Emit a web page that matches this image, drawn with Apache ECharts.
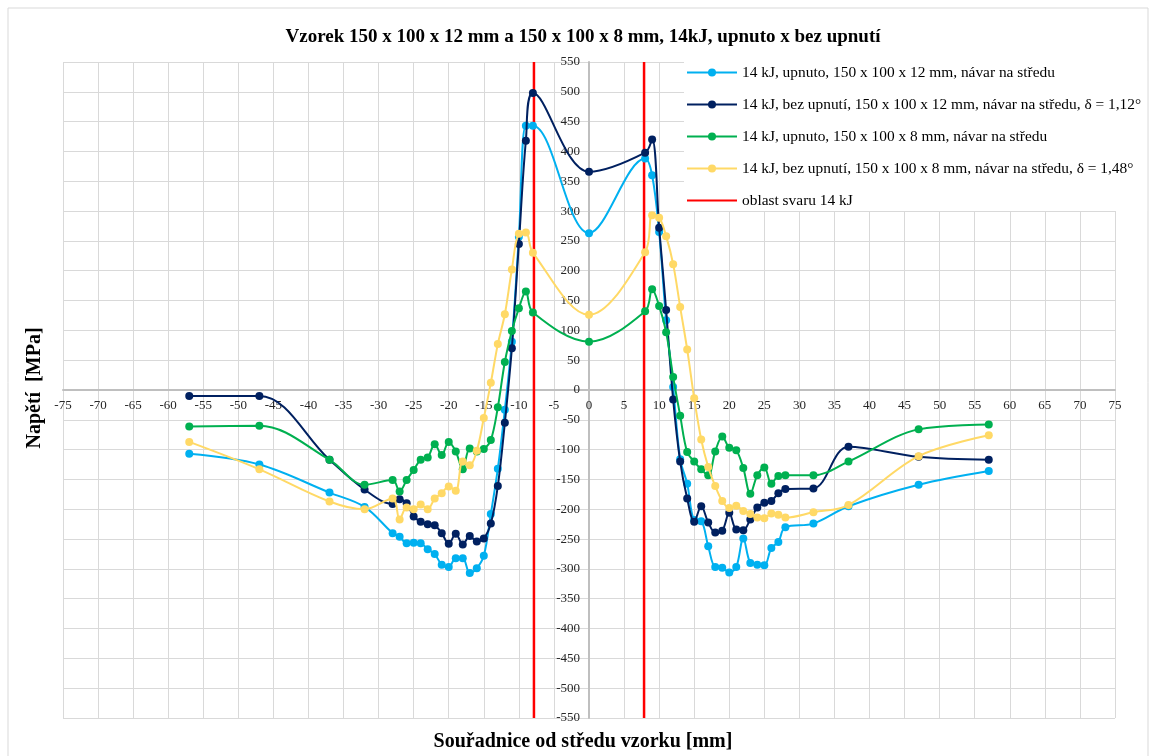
<!DOCTYPE html>
<html>
<head>
<meta charset="utf-8">
<script src="https://cdn.jsdelivr.net/npm/echarts@6/dist/echarts.min.js"></script>
<style>
html,body{margin:0;padding:0;background:#fff;}
#c{width:1154px;height:756px;}
</style>
</head>
<body>
<div id="c"></div>
<script>
// Positions (mm from centre of specimen)
const positions = [-57,-47,-37,-32,-28,-27,-26,-25,-24,-23,-22,-21,-20,-19,-18,-17,-16,-15,-14,-13,-12,-11,-10,-9,-8,
  0,
  8,9,10,11,12,13,14,15,16,17,18,19,20,21,22,23,24,25,26,27,28,32,37,47,57];

// 14 kJ, upnuto, 150 x 100 x 12 mm
const upnuto12 = [-107,-125,-172,-196,-240,-246,-257,-256,-257,-267,-275,-293,-297,-282,-282,-307,-299,-278,-208,-132,-33,81,257,443,443,
  263,
  388,360,265,117,5,-116,-157,-218,-220,-262,-297,-298,-306,-297,-249,-290,-293,-294,-265,-255,-230,-224,-195,-159,-136];

// 14 kJ, bez upnutí, 150 x 100 x 12 mm
const bezUpnuti12 = [-10,-10,-117,-167,-191,-183,-190,-212,-221,-225,-227,-240,-258,-241,-259,-245,-254,-249,-224,-161,-55,70,245,418,498,
  366,
  398,420,272,134,-16,-120,-182,-221,-195,-222,-239,-236,-206,-234,-235,-217,-197,-189,-186,-173,-166,-165,-95,-112,-117];

// 14 kJ, upnuto, 150 x 100 x 8 mm
const upnuto8 = [-61,-60,-117,-159,-151,-170,-151,-134,-117,-113,-91,-109,-87,-103,-133,-98,-103,-99,-84,-29,47,99,137,165,130,
  81,
  132,169,141,97,22,-43,-104,-120,-133,-143,-103,-78,-97,-101,-131,-174,-143,-130,-157,-144,-143,-143,-120,-66,-58];

// 14 kJ, bez upnutí, 150 x 100 x 8 mm
const bezUpnuti8 = [-87,-133,-187,-200,-182,-217,-197,-200,-192,-200,-182,-173,-162,-169,-120,-126,-102,-47,12,77,127,202,262,264,230,
  126,
  231,293,289,258,211,139,68,-14,-83,-129,-161,-186,-198,-194,-203,-208,-214,-215,-207,-209,-214,-205,-193,-111,-76];

// weld zone boundaries
const weldZone = [-7.85, 7.85];
const xRange = [-75, 75];
const yRange = [-550, 550];

const seriesNames = [
  '14 kJ, upnuto, 150 x 100 x 12 mm, návar na středu',
  '14 kJ, bez upnutí, 150 x 100 x 12 mm, návar na středu, δ = 1,12°',
  '14 kJ, upnuto, 150 x 100 x 8 mm, návar na středu',
  '14 kJ, bez upnutí, 150 x 100 x 8 mm, návar na středu, δ = 1,48°',
  'oblast svaru 14 kJ'
];
const colors = ['#00B0F0', '#002060', '#00B050', '#FFD966', '#FF0000'];

const zip = (xs, ys) => xs.map((x, i) => [x, ys[i]]);
const serif = '"Liberation Serif", "DejaVu Serif", serif';

// plot box
const W = 1154, H = 756;
const G = { left: 63, right: 39, top: 62, bottom: 38 };
const gw = W - G.left - G.right, gh = H - G.top - G.bottom;
// shift axes so they cross at zero
const yAxisOffset = -gw * (0 - xRange[0]) / (xRange[1] - xRange[0]);
const xAxisOffset = -gh * (0 - yRange[0]) / (yRange[1] - yRange[0]);

function dataSeries(idx, values) {
  return {
    name: seriesNames[idx],
    type: 'line',
    data: zip(positions, values),
    smooth: 0.35,
    symbol: 'circle',
    symbolSize: 8,
    showSymbol: true,
    lineStyle: { color: colors[idx], width: 2 },
    itemStyle: { color: colors[idx] },
    z: 3 + idx
  };
}

const chart = echarts.init(document.getElementById('c'), null, { renderer: 'canvas' });
chart.setOption({
  animation: false,
  backgroundColor: '#fff',
  grid: { left: G.left, right: G.right, top: G.top, bottom: G.bottom, containLabel: false },
  xAxis: {
    type: 'value', min: xRange[0], max: xRange[1], interval: 5,
    position: 'bottom', offset: xAxisOffset,
    axisLine: { onZero: false, lineStyle: { color: '#BFBFBF', width: 2 } },
    axisTick: { show: false },
    axisLabel: { color: '#262626', fontFamily: serif, fontSize: 13, margin: 9 },
    splitLine: { show: true, lineStyle: { color: '#D9D9D9', width: 1 } }
  },
  yAxis: {
    type: 'value', min: yRange[0], max: yRange[1], interval: 50,
    position: 'left', offset: yAxisOffset,
    axisLine: { show: true, onZero: false, lineStyle: { color: '#BFBFBF', width: 2 } },
    axisTick: { show: false },
    axisLabel: { color: '#262626', fontFamily: serif, fontSize: 13, margin: 9 },
    splitLine: { show: true, lineStyle: { color: '#D9D9D9', width: 1 } }
  },
  legend: {
    orient: 'vertical',
    left: 684, top: 61,
    data: seriesNames.map((n, i) => i === 4 ? { name: n, itemStyle: { opacity: 0 } } : { name: n }),
    itemWidth: 50, itemHeight: 10,
    itemGap: 17,
    backgroundColor: '#fff',
    padding: [4, 6, 3, 2],
    textStyle: { fontFamily: serif, fontSize: 15.4, color: '#000' },
    z: 10
  },
  graphic: [
    { type: 'rect', z: -1, shape: { x: 8, y: 8, width: 1140, height: 760 }, style: { fill: 'none', stroke: '#D9D9D9', lineWidth: 1 } },
    { type: 'text', x: 583, y: 37, style: { text: 'Vzorek 150 x 100 x 12 mm a 150 x 100 x 8 mm, 14kJ, upnuto x bez upnutí', font: 'bold 19px ' + serif, fill: '#000', align: 'center', verticalAlign: 'middle' } },
    { type: 'text', x: 583, y: 742, style: { text: 'Souřadnice od středu vzorku [mm]', font: 'bold 20px ' + serif, fill: '#000', align: 'center', verticalAlign: 'middle' } },
    { type: 'text', x: 35, y: 388, rotation: Math.PI / 2, style: { text: 'Napětí  [MPa]', font: 'bold 20px ' + serif, fill: '#000', align: 'center', verticalAlign: 'middle' } }
  ],
  series: [
    {
      name: seriesNames[4],
      type: 'line',
      data: [[weldZone[0], yRange[0]], [weldZone[0], yRange[1]], '-', [weldZone[1], yRange[1]], [weldZone[1], yRange[0]]],
      symbol: 'none',
      showSymbol: false,
      connectNulls: false,
      lineStyle: { color: colors[4], width: 2.5 },
      itemStyle: { color: colors[4] },
      z: 2
    },
    dataSeries(0, upnuto12),
    dataSeries(1, bezUpnuti12),
    dataSeries(2, upnuto8),
    dataSeries(3, bezUpnuti8)
  ]
});
</script>
</body>
</html>
